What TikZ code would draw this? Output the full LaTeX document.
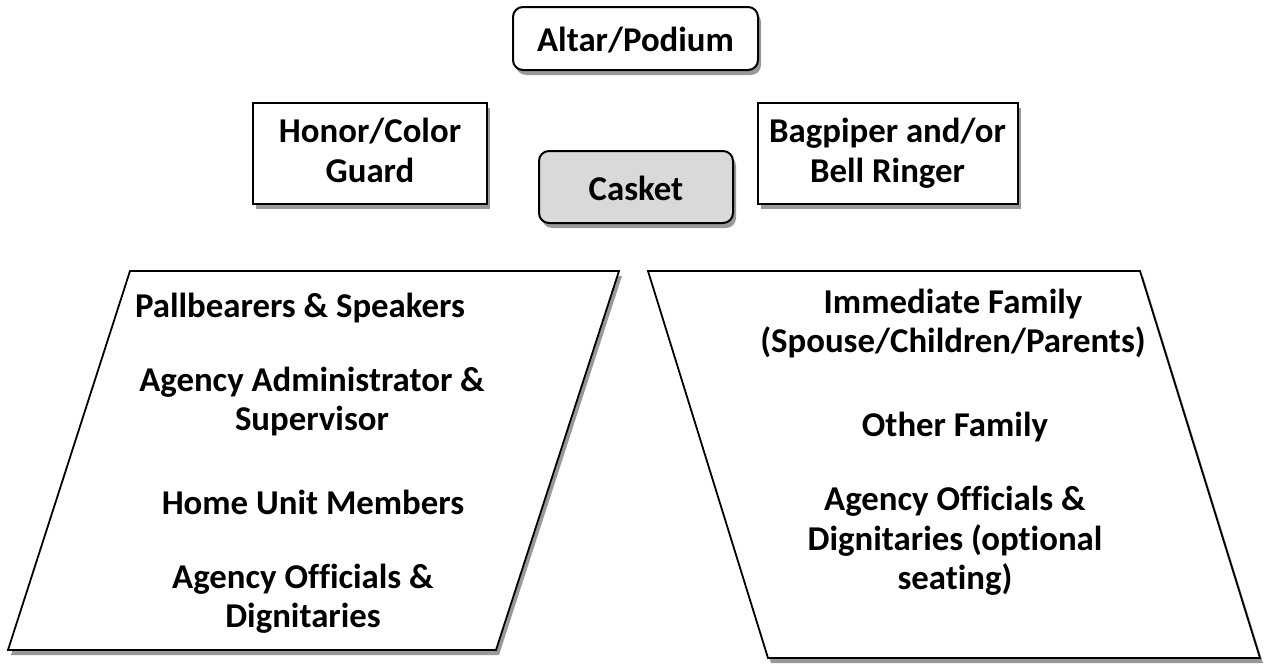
\documentclass[tikz,border=0pt]{standalone}
\usepackage{fontspec}
\setmainfont{Carlito}[Ligatures=NoCommon]
\usetikzlibrary{shadows}
\tikzset{
  seat/.style={font=\fontsize{17.4}{19.6}\selectfont\bfseries, align=center,
    execute at begin node=\rule{0pt}{16.4pt}, execute at end node=\rule[-3.2pt]{0pt}{3.2pt}},
  shade/.style={drop shadow={shadow xshift=1.5pt, shadow yshift=-2.5pt, fill=black!40, opacity=1}},
  box/.style={draw, line width=1pt, fill=white, seat, shade, inner sep=0pt},
  rbox/.style={box, rounded corners=5pt},
  area/.style={draw, line width=0.9pt, fill=white, shade}
}
\begin{document}
\begin{tikzpicture}[x=0.5pt,y=-0.5pt]
\useasboundingbox (0,0) rectangle (1265,664);
% front
\node[rbox, minimum width=122.5pt, minimum height=31.5pt] (altar) at (635.5,38.5) {Altar/Podium};
\node[box, minimum width=117pt, minimum height=50.5pt] (guard) at (370,153.5) {Honor/Color\\Guard};
\node[rbox, fill=black!15, minimum width=97pt, minimum height=36pt] (casket) at (636,187) {Casket};
\node[box, minimum width=130pt, minimum height=50.5pt] (piper) at (887.5,153.5) {Bagpiper and/or\\Bell Ringer};
% LHS
\filldraw[area] (130,271) -- (619,271) -- (496,650) -- (8,650) -- cycle;
\node[seat] (pall) at (300,304) {Pallbearers \& Speakers};
\node[seat] (admin) at (312,402) {Agency Administrator \&\\Supervisor};
\node[seat] (home) at (313,501) {Home Unit Members};
\node[seat] (offl) at (303,599) {Agency Officials \&\\Dignitaries};
% RHS
\filldraw[area] (648,271) -- (1140,271) -- (1260,658) -- (768,658) -- cycle;
\node[seat] (family) at (953,324) {Immediate Family\\(Spouse/Children/Parents)};
\node[seat] (other) at (955,423) {Other Family};
\node[seat] (offr) at (955,541) {Agency Officials \&\\Dignitaries (optional\\seating)};
\end{tikzpicture}
\end{document}
